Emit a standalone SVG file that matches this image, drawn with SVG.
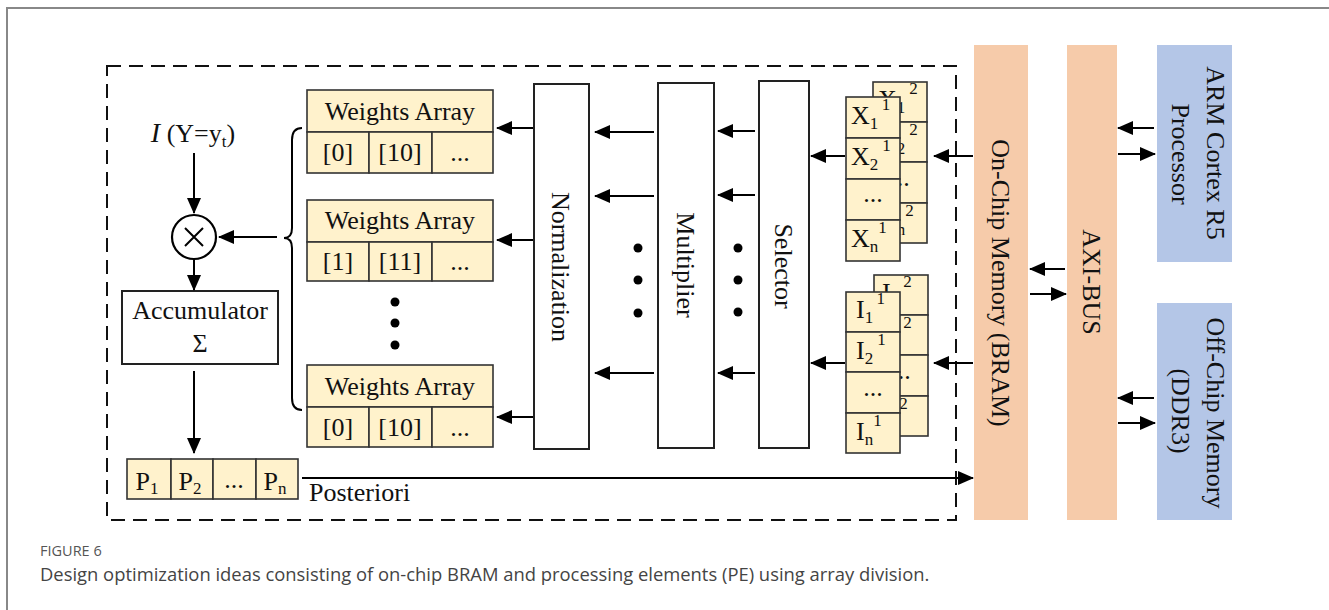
<svg xmlns="http://www.w3.org/2000/svg" width="1329" height="610" viewBox="0 0 1329 610">
  <defs>
    <marker id="ah" markerUnits="userSpaceOnUse" markerWidth="16" markerHeight="14" refX="15" refY="7" orient="auto">
      <path d="M0,0 L16,7 L0,14 Z" fill="#000"/>
    </marker>
    <!-- visible parts of the rear buffer banks -->
    <clipPath id="clipX">
      <path d="M873,82 L927,82 L927,243 L900,243 L900,97 L873,97 Z"/>
    </clipPath>
    <clipPath id="clipI">
      <path d="M874,275 L928,275 L928,436 L900,436 L900,292 L874,292 Z"/>
    </clipPath>
    <style>
      .t { font-family: "Liberation Serif", "Times New Roman", serif; font-size: 26px; fill: #111; }
      .tm { text-anchor: middle; }
      .box { fill: #fff; stroke: #222; stroke-width: 2; }
      .cell { fill: #FFF2CC; stroke: #333; stroke-width: 1.6; }
      .ln { stroke: #000; stroke-width: 2; fill: none; }
      .arr { stroke: #000; stroke-width: 2; fill: none; marker-end: url(#ah); }
      .dot { fill: #000; }
      .sub { font-size: 17px; }
      .cap { font-family: "Open Sans", "Noto Sans", sans-serif; }
    </style>
  </defs>

  <rect width="1329" height="610" fill="#fff"/>
  <!-- page frame -->
  <path d="M7,610 L7,8 L1329,8" fill="none" stroke="#888" stroke-width="2"/>

  <!-- processing element boundary -->
  <rect x="107" y="66" width="849" height="454" fill="none" stroke="#111" stroke-width="2" stroke-dasharray="14,8"/>

  <!-- input indicator -->
  <g id="indicator">
    <text class="t tm" x="193" y="142"><tspan font-style="italic" font-size="28">I</tspan> (Y=y<tspan class="sub" dy="5">t</tspan><tspan dy="-5">)</tspan></text>
  </g>

  <!-- multiply node -->
  <g id="mul">
    <circle cx="194" cy="237" r="22" fill="#fff" stroke="#000" stroke-width="2.2"/>
    <path d="M185,228 L203,246 M203,228 L185,246" class="ln" stroke-width="2.8"/>
  </g>

  <!-- accumulator -->
  <g id="accumulator">
    <rect class="box" x="122" y="291" width="156" height="73"/>
    <text class="t tm" x="200" y="319">Accumulator</text>
    <text class="t tm" x="200" y="352">Σ</text>
  </g>

  <!-- posterior vector -->
  <g id="posterior">
    <rect class="cell" x="127" y="459" width="44" height="40"/>
    <rect class="cell" x="171" y="459" width="42" height="40"/>
    <rect class="cell" x="213" y="459" width="43" height="40"/>
    <rect class="cell" x="256" y="459" width="42" height="40"/>
    <text class="t tm" x="147" y="490">P<tspan class="sub" dy="4">1</tspan></text>
    <text class="t tm" x="190" y="490">P<tspan class="sub" dy="4">2</tspan></text>
    <text class="t tm" x="234" y="488">...</text>
    <text class="t tm" x="275" y="490">P<tspan class="sub" dy="4">n</tspan></text>
    <text class="t" x="309" y="501">Posteriori</text>
  </g>

  <!-- weight arrays -->
  <g id="weights0">
    <rect class="cell" x="307" y="90" width="186" height="42"/>
    <rect class="cell" x="307" y="132" width="62" height="41"/>
    <rect class="cell" x="369" y="132" width="63" height="41"/>
    <rect class="cell" x="432" y="132" width="61" height="41"/>
    <text class="t tm" x="400" y="120">Weights Array</text>
    <text class="t tm" x="338" y="161">[0]</text>
    <text class="t tm" x="400" y="161">[10]</text>
    <text class="t tm" x="460" y="161">...</text>
  </g>
  <g id="weights1">
    <rect class="cell" x="307" y="200" width="186" height="42"/>
    <rect class="cell" x="307" y="242" width="62" height="39"/>
    <rect class="cell" x="369" y="242" width="63" height="39"/>
    <rect class="cell" x="432" y="242" width="61" height="39"/>
    <text class="t tm" x="400" y="229">Weights Array</text>
    <text class="t tm" x="338" y="270">[1]</text>
    <text class="t tm" x="400" y="270">[11]</text>
    <text class="t tm" x="460" y="270">...</text>
  </g>
  <g id="weights2">
    <rect class="cell" x="307" y="365" width="186" height="42"/>
    <rect class="cell" x="307" y="407" width="62" height="40"/>
    <rect class="cell" x="369" y="407" width="63" height="40"/>
    <rect class="cell" x="432" y="407" width="61" height="40"/>
    <text class="t tm" x="400" y="395">Weights Array</text>
    <text class="t tm" x="338" y="436">[0]</text>
    <text class="t tm" x="400" y="436">[10]</text>
    <text class="t tm" x="460" y="436">...</text>
  </g>
  <g id="weights-ellipsis">
    <circle class="dot" cx="395" cy="302" r="4.5"/>
    <circle class="dot" cx="395" cy="323" r="4.5"/>
    <circle class="dot" cx="395" cy="345" r="4.5"/>
  </g>

  <!-- pipeline stages -->
  <g id="normalization">
    <rect class="box" x="534" y="84" width="55" height="365"/>
    <text class="t tm" transform="translate(561,267) rotate(90)" dy="0.33em">Normalization</text>
  </g>
  <g id="multiplier">
    <rect class="box" x="658" y="83" width="56" height="365"/>
    <text class="t tm" transform="translate(686,265) rotate(90)" dy="0.33em">Multiplier</text>
  </g>
  <g id="selector">
    <rect class="box" x="759" y="81" width="50" height="367"/>
    <text class="t tm" transform="translate(784,266) rotate(90)" dy="0.33em">Selector</text>
  </g>

  <!-- feature buffers (two banks) -->
  <g id="x-bank">
    <rect class="cell" x="873" y="82" width="54" height="40"/>
    <rect class="cell" x="873" y="122" width="54" height="40"/>
    <rect class="cell" x="873" y="162" width="54" height="41"/>
    <rect class="cell" x="873" y="203" width="54" height="40"/>
    <g clip-path="url(#clipX)">
      <text class="t" x="878" y="108">X<tspan class="sub" dy="5">1</tspan><tspan class="sub" dx="4" dy="-19">2</tspan></text>
      <text class="t" x="878" y="149">X<tspan class="sub" dy="5">2</tspan><tspan class="sub" dx="4" dy="-19">2</tspan></text>
      <text class="t tm" x="900" y="186">...</text>
      <text class="t" x="878" y="230">X<tspan class="sub" dy="5">n</tspan><tspan class="sub" dx="0" dy="-19">2</tspan></text>
    </g>
    <rect class="cell" x="846" y="97" width="54" height="41"/>
    <rect class="cell" x="846" y="138" width="54" height="41"/>
    <rect class="cell" x="846" y="179" width="54" height="41"/>
    <rect class="cell" x="846" y="220" width="54" height="41"/>
    <text class="t" x="851" y="124">X<tspan class="sub" dy="5">1</tspan><tspan class="sub" dx="4" dy="-19">1</tspan></text>
    <text class="t" x="851" y="165">X<tspan class="sub" dy="5">2</tspan><tspan class="sub" dx="4" dy="-19">1</tspan></text>
    <text class="t tm" x="873" y="202">...</text>
    <text class="t" x="851" y="247">X<tspan class="sub" dy="5">n</tspan><tspan class="sub" dx="0" dy="-19">1</tspan></text>
  </g>
  <g id="i-bank">
    <rect class="cell" x="874" y="275" width="54" height="40"/>
    <rect class="cell" x="874" y="315" width="54" height="40"/>
    <rect class="cell" x="874" y="355" width="54" height="41"/>
    <rect class="cell" x="874" y="396" width="54" height="40"/>
    <g clip-path="url(#clipI)">
      <text class="t" x="882" y="301">I<tspan class="sub" dy="5">1</tspan><tspan class="sub" dx="4" dy="-19">2</tspan></text>
      <text class="t" x="882" y="342">I<tspan class="sub" dy="5">2</tspan><tspan class="sub" dx="4" dy="-19">2</tspan></text>
      <text class="t tm" x="901" y="379">...</text>
      <text class="t" x="882" y="423">I<tspan class="sub" dy="5">n</tspan><tspan class="sub" dx="0" dy="-19">2</tspan></text>
    </g>
    <rect class="cell" x="846" y="292" width="54" height="40"/>
    <rect class="cell" x="846" y="332" width="54" height="40"/>
    <rect class="cell" x="846" y="372" width="54" height="41"/>
    <rect class="cell" x="846" y="413" width="54" height="40"/>
    <text class="t" x="856" y="318">I<tspan class="sub" dy="5">1</tspan><tspan class="sub" dx="4" dy="-19">1</tspan></text>
    <text class="t" x="856" y="359">I<tspan class="sub" dy="5">2</tspan><tspan class="sub" dx="4" dy="-19">1</tspan></text>
    <text class="t tm" x="873" y="396">...</text>
    <text class="t" x="856" y="440">I<tspan class="sub" dy="5">n</tspan><tspan class="sub" dx="0" dy="-19">1</tspan></text>
  </g>

  <!-- system blocks -->
  <g id="bram">
    <rect x="974" y="45" width="54" height="475" fill="#F6CBAA"/>
    <text class="t tm" transform="translate(1001,283) rotate(90)" dy="0.33em">On-Chip Memory (BRAM)</text>
  </g>
  <g id="axi">
    <rect x="1067" y="45" width="50" height="475" fill="#F6CBAA"/>
    <text class="t tm" transform="translate(1092,282) rotate(90)" dy="0.33em">AXI-BUS</text>
  </g>
  <g id="arm">
    <rect x="1157" y="45" width="75" height="217" fill="#B4C6E7"/>
    <text class="t tm" transform="translate(1216,153) rotate(90)" dy="0.33em">ARM Cortex R5</text>
    <text class="t tm" transform="translate(1181,154) rotate(90)" dy="0.33em">Processor</text>
  </g>
  <g id="ddr">
    <rect x="1157" y="303" width="75" height="217" fill="#B4C6E7"/>
    <text class="t tm" transform="translate(1216,413) rotate(90)" dy="0.33em">Off-Chip Memory</text>
    <text class="t tm" transform="translate(1181,411) rotate(90)" dy="0.33em">(DDR3)</text>
  </g>

  <!-- connectors -->
  <g id="connectors">
    <path class="arr" d="M194,153 L194,213"/>
    <path class="arr" d="M194,260 L194,290"/>
    <path class="arr" d="M194,371 L194,453"/>
    <path class="arr" d="M277,237 L219,237"/>
    <path class="ln" d="M302,128 Q292,128 292,140 L292,228 Q292,238 284,238 Q292,238 292,248 L292,398 Q292,410 302,410"/>
    <path class="arr" d="M302,478 L973,478"/>

    <path class="arr" d="M533,128 L497,128"/>
    <path class="arr" d="M533,240 L497,240"/>
    <path class="arr" d="M533,417 L497,417"/>

    <path class="arr" d="M654,132 L595,132"/>
    <path class="arr" d="M654,196 L595,196"/>
    <path class="arr" d="M654,373 L595,373"/>
    <circle class="dot" cx="638" cy="248" r="4.5"/>
    <circle class="dot" cx="638" cy="280" r="4.5"/>
    <circle class="dot" cx="638" cy="313" r="4.5"/>

    <path class="arr" d="M755,131 L718,131"/>
    <path class="arr" d="M755,195 L718,195"/>
    <path class="arr" d="M755,373 L718,373"/>
    <circle class="dot" cx="738" cy="248" r="4.5"/>
    <circle class="dot" cx="738" cy="280" r="4.5"/>
    <circle class="dot" cx="738" cy="312" r="4.5"/>

    <path class="arr" d="M845,156 L811,156"/>
    <path class="arr" d="M845,363 L811,363"/>
    <path class="arr" d="M973,156 L934,156"/>
    <path class="arr" d="M973,363 L934,363"/>

    <path class="arr" d="M1065,269 L1030,269"/>
    <path class="arr" d="M1030,294 L1066,294"/>
    <path class="arr" d="M1154,128 L1118,128"/>
    <path class="arr" d="M1118,154 L1155,154"/>
    <path class="arr" d="M1154,398 L1118,398"/>
    <path class="arr" d="M1118,423 L1155,423"/>
  </g>

  <!-- caption -->
  <text class="cap" x="40" y="556" font-size="14.5" fill="#555">FIGURE 6</text>
  <text class="cap" x="40" y="581" font-size="18.4" fill="#444">Design optimization ideas consisting of on-chip BRAM and processing elements (PE) using array division.</text>
</svg>
